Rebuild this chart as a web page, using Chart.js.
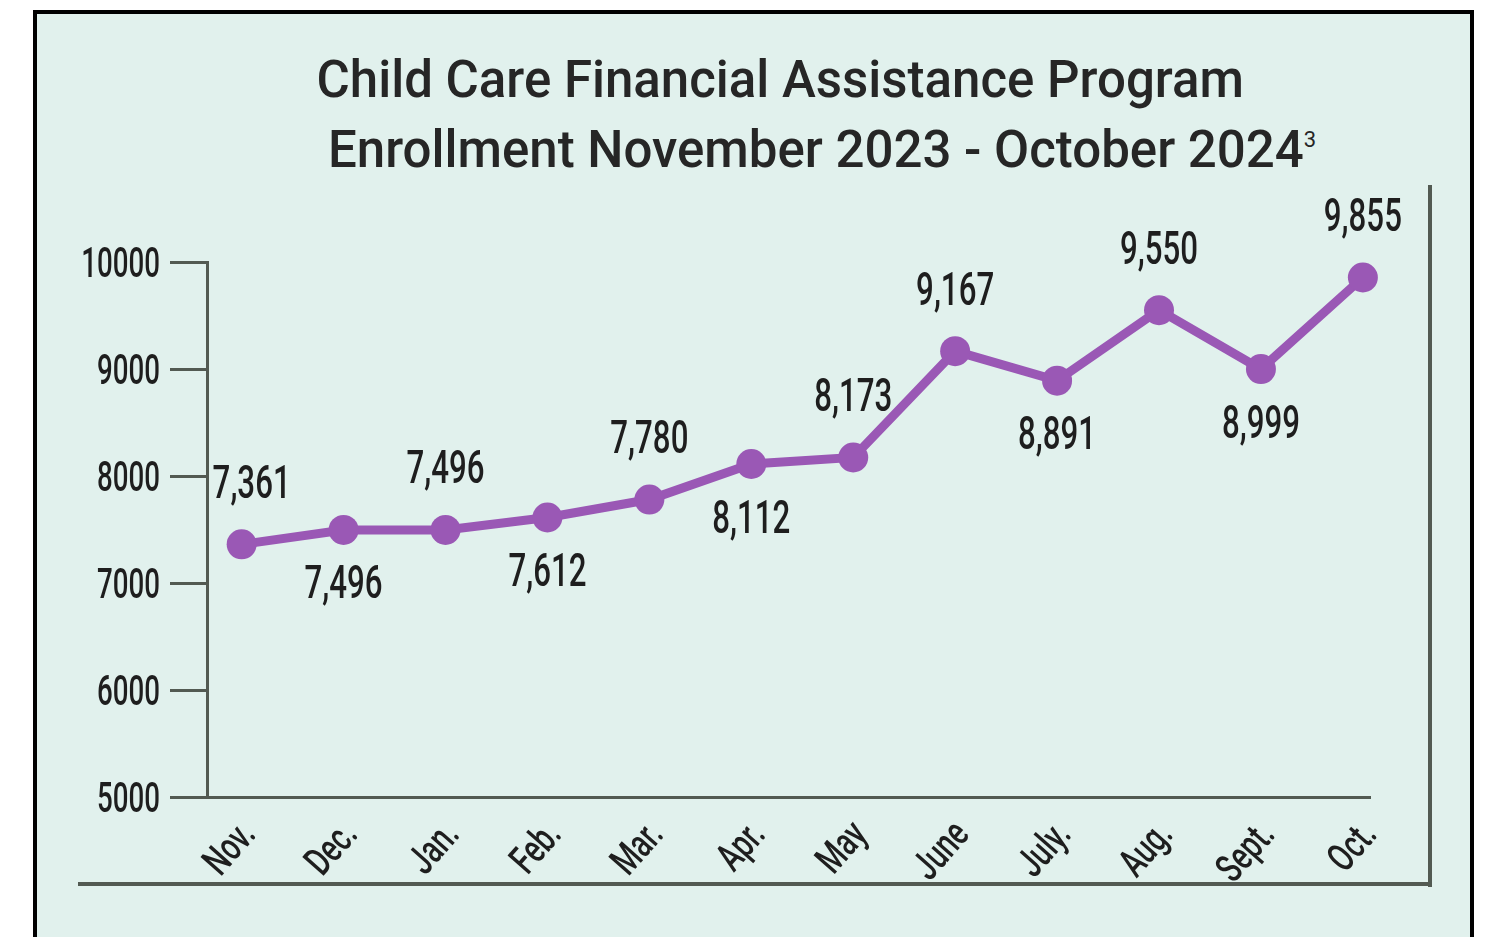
<!DOCTYPE html>
<html>
<head>
<meta charset="utf-8">
<script src="https://cdn.jsdelivr.net/npm/chart.js@4.4.1/dist/chart.umd.min.js"></script>
<style>
    html, body { margin: 0; padding: 0; background: #fff; width: 1488px; height: 937px; overflow: hidden; }
    .panel { position: absolute; left: 33px; top: 10px; width: 1433px; height: 960px; border: 4px solid #000; background: #e1f1ed; }
    .title { position: absolute; font-family: Roboto, 'Open Sans', sans-serif; font-weight: 500; font-size: 51px; color: #262626; white-space: nowrap; line-height: 60px; }
    .frame { position: absolute; background: #525a52; }
    canvas { position: absolute; left: 0; top: 0; }
</style>
</head>
<body>
<div class="panel"></div>
<div class="title" id="titleLine1">Child Care Financial Assistance Program</div>
<div class="title" id="titleLine2">Enrollment November 2023 - October 2024<sup style="font-size: 22px; font-weight: 400; vertical-align: 20px;">3</sup></div>
<div class="frame" style="left: 1428px; top: 185px; width: 4px; height: 702px;"></div>
<div class="frame" style="left: 78px; top: 882px; width: 1354px; height: 4px;"></div>
<canvas id="enrollmentChart" width="1488" height="937"></canvas>
<script>
const monthLabels = ['Nov.', 'Dec.', 'Jan.', 'Feb.', 'Mar.', 'Apr.', 'May', 'June', 'July.', 'Aug.', 'Sept.', 'Oct.'];
const enrollment = [7361, 7496, 7496, 7612, 7780, 8112, 8173, 9167, 8891, 9550, 8999, 9855];
const labelSide = ['up', 'down', 'up', 'down', 'up', 'down', 'up', 'up', 'down', 'up', 'down', 'up'];
const yTicks = [5000, 6000, 7000, 8000, 9000, 10000];

const axisColor = '#525a52';
const lineColor = '#9a58b5';
const textColor = '#1e1e1e';
const narrowFamily = "Roboto, 'DejaVu Sans', sans-serif";

function placeTitle(id, centerX, top) {
    const el = document.getElementById(id);
    el.style.top = top + 'px';
    el.style.left = (centerX - el.offsetWidth / 2) + 'px';
}
placeTitle('titleLine1', 780, 50);
placeTitle('titleLine2', 822, 110);

// no condensed face is installed, so squeeze the text horizontally
function drawNarrow(ctx, text, x, y, size, squeeze, align, angle) {
    ctx.save();
    ctx.translate(x, y);
    if (angle) ctx.rotate(angle);
    ctx.scale(squeeze, 1);
    ctx.font = '500 ' + size + 'px ' + narrowFamily;
    ctx.fillStyle = textColor;
    ctx.textAlign = align;
    ctx.textBaseline = 'middle';
    ctx.fillText(text, 0, 0);
    ctx.restore();
}

const narrowLabels = {
    id: 'narrowLabels',
    afterDraw(chart) {
        const ctx = chart.ctx;
        const xScale = chart.scales.x;
        const yScale = chart.scales.y;

        yTicks.forEach(function (value) {
            drawNarrow(ctx, String(value), 160, yScale.getPixelForValue(value) + 4, 42, 0.66, 'right', 0);
        });

        monthLabels.forEach(function (label, i) {
            drawNarrow(ctx, label, xScale.getPixelForValue(i) + 8, xScale.bottom - 68, 40, 0.7, 'right', -Math.PI * 0.27);
        });

        chart.getDatasetMeta(0).data.forEach(function (point, i) {
            const dy = labelSide[i] === 'up' ? -58 : 57;
            const dx = i === 0 ? 10 : 0;
            drawNarrow(ctx, enrollment[i].toLocaleString('en-US'), point.x + dx, point.y + dy, 46, 0.68, 'center', 0);
        });
    },
};

new Chart(document.getElementById('enrollmentChart'), {
    type: 'line',
    data: {
        datasets: [{
            data: enrollment.map((value, i) => ({ x: i, y: value })),
            borderColor: lineColor,
            backgroundColor: lineColor,
            borderWidth: 9,
            pointRadius: 15,
            pointHoverRadius: 15,
            pointBorderWidth: 0,
            tension: 0,
            clip: false,
        }],
    },
    options: {
        responsive: false,
        animation: false,
        layout: { padding: { left: 0, right: 118, top: 262, bottom: 40 } },
        plugins: { legend: { display: false }, tooltip: { enabled: false } },
        scales: {
            x: {
                type: 'linear',
                min: -0.34,
                max: 11.07,
                afterBuildTicks: scale => { scale.ticks = monthLabels.map((_, i) => ({ value: i })); },
                afterFit: scale => { scale.height = 100; },
                ticks: { display: false },
                grid: { display: false },
                border: { display: true, color: axisColor, width: 3 },
            },
            y: {
                min: 5000,
                max: 10000,
                afterBuildTicks: scale => { scale.ticks = yTicks.map(value => ({ value })); },
                afterFit: scale => { scale.width = 207; },
                ticks: { display: false },
                grid: { drawOnChartArea: false, drawTicks: true, tickLength: 37, color: axisColor, lineWidth: 3 },
                border: { display: true, color: axisColor, width: 3 },
            },
        },
    },
    plugins: [narrowLabels],
});
</script>
</body>
</html>
